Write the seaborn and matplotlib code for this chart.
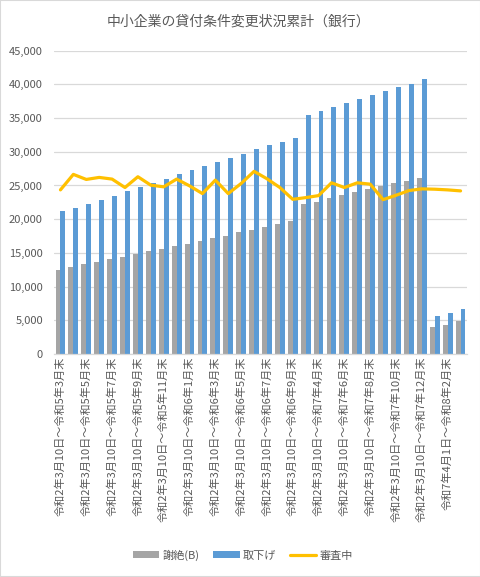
import numpy as np
import pandas as pd
import matplotlib.pyplot as plt
import seaborn as sns
from matplotlib.patches import Patch, Rectangle
from matplotlib.lines import Line2D

# categories: cumulative since R2/3/10 (R5/3-R6/9, R7/3-R7/12), then new series since R7/4/1
r5_months = list(range(3, 13))
r6_months = list(range(1, 10))
r7_months = list(range(3, 13))
new_months = ["令和8年1月末", "令和8年2月末", "令和8年3月末"]

categories = (["令和2年3月10日～令和5年%d月末" % m for m in r5_months]
              + ["令和2年3月10日～令和6年%d月末" % m for m in r6_months]
              + ["令和2年3月10日～令和7年%d月末" % m for m in r7_months]
              + ["令和7年4月1日～" + s for s in new_months])

shazetsu = [12450, 12950, 13350, 13650, 14100, 14450, 14900, 15300, 15600, 16000,
            16300, 16700, 17150, 17500, 18050, 18450, 18900, 19300, 19800,
            22250, 22600, 23100, 23600, 24050, 24450, 24900, 25350, 25650, 26050,
            4000, 4300, 4850]
torisage = [21200, 21700, 22250, 22850, 23400, 24200, 24750, 25350, 25950, 26700,
            27300, 27900, 28450, 29100, 29700, 30450, 30950, 31500, 32100,
            35450, 36100, 36650, 37200, 37900, 38450, 39000, 39550, 40050, 40750,
            5650, 6100, 6650]
shinsachu = [24350, 26650, 25900, 26200, 25950, 24700, 26300, 25050, 24800, 25950,
             24950, 23800, 25800, 23800, 25300, 27100, 26000, 24700, 22950,
             23200, 23500, 25400, 24700, 25400, 25200, 22900, 23550, 24250, 24500,
             24450, 24350, 24200]

n = len(categories)
df = pd.DataFrame({
    "期間": categories * 2,
    "件数": shazetsu + torisage,
    "区分": ["謝絶(B)"] * n + ["取下げ"] * n,
})

sns.set_theme(style="white")
plt.rcParams['font.family'] = ['Noto Sans CJK JP', 'DejaVu Sans']
txt = "#595959"
grid = "#D9D9D9"

fig = plt.figure(figsize=(4.81, 5.77), dpi=100)
ax = fig.add_axes([54/481, 1 - 354/577, 413/481, (354 - 50.7)/577])

sns.barplot(data=df, x="期間", y="件数", hue="区分", order=categories,
            palette=["#A5A5A5", "#5B9BD5"], width=0.76, gap=0, saturation=1,
            linewidth=0, legend=False, ax=ax, zorder=2)
sns.lineplot(x=np.arange(n), y=shinsachu, color="#FFC000", linewidth=2.3,
             ax=ax, legend=False, zorder=3)

ax.set_xlim(-0.5, n - 0.5)
ax.set_ylim(0, 45000)
ax.set_yticks(range(0, 45001, 5000))
ax.set_yticklabels(["{:,}".format(v) for v in range(0, 45001, 5000)])
ax.set_xticks(range(n))
ax.set_xticklabels([c if i % 2 == 0 else "" for i, c in enumerate(categories)],
                   rotation=90, va="top", ha="center")
ax.tick_params(axis="x", length=0, pad=2, labelsize=8, labelcolor=txt)
ax.tick_params(axis="y", length=0, pad=8, labelsize=8, labelcolor=txt)
ax.set_xlabel("")
ax.set_ylabel("")
ax.yaxis.grid(True, color=grid, linewidth=0.9, zorder=0)
ax.set_axisbelow(True)
for s in ["left", "right", "top"]:
    ax.spines[s].set_visible(False)
ax.spines["bottom"].set_color(grid)
ax.spines["bottom"].set_linewidth(0.9)

fig.text(238/481, 1 - 22/577, "中小企業の貸付条件変更状況累計（銀行）",
         ha="center", va="center", fontsize=10, color=txt)

handles = [Patch(facecolor="#A5A5A5", edgecolor="none"),
           Patch(facecolor="#5B9BD5", edgecolor="none"),
           Line2D([], [], color="#FFC000", linewidth=2.3)]
fig.legend(handles, ["謝絶(B)", "取下げ", "審査中"], loc="center",
           bbox_to_anchor=(243/481, 1 - 555/577), ncol=3, frameon=False,
           fontsize=8, labelcolor=txt, handlelength=2.4, handleheight=0.5,
           handletextpad=0.3, columnspacing=1.2)

fig.add_artist(Rectangle((0, 0), 1, 1, transform=fig.transFigure, fill=False,
                         edgecolor=grid, linewidth=1.5))

fig.savefig("out.png", dpi=100)
